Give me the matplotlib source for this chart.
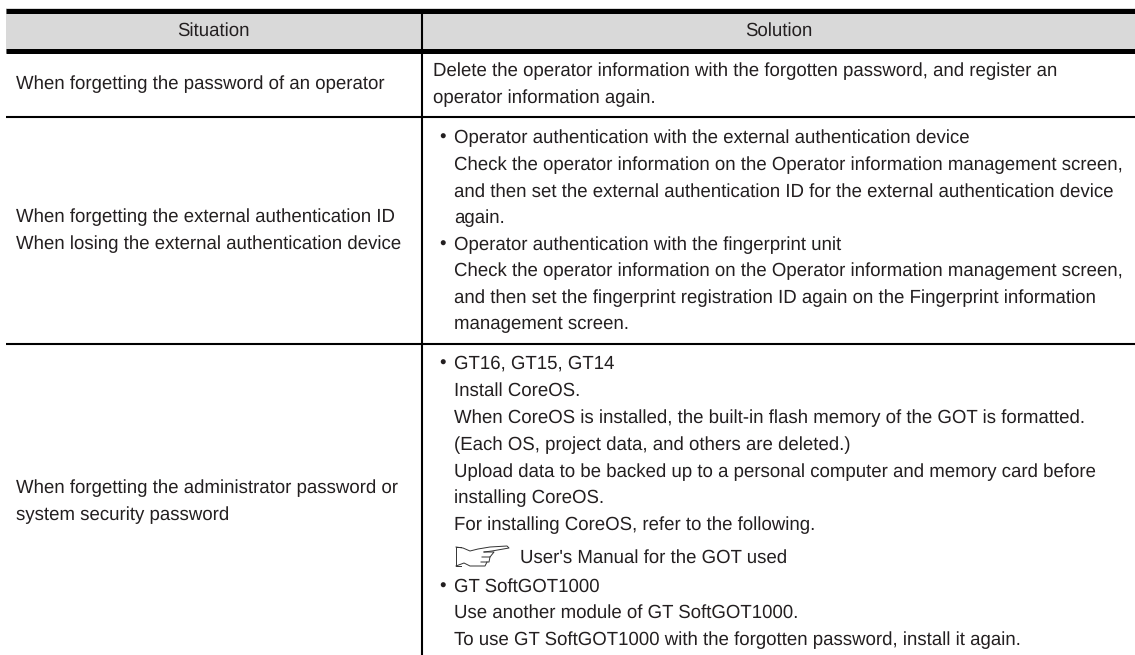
import matplotlib
matplotlib.use("Agg")
import matplotlib.pyplot as plt
from matplotlib.patches import Rectangle

W = 1135
H = 655

headers = ["Situation", "Solution"]
situations = [
    ["When forgetting the password of an operator"],
    ["When forgetting the external authentication ID",
     "When losing the external authentication device"],
    ["When forgetting the administrator password or",
     "system security password"],
]
solution_1 = ["Delete the operator information with the forgotten password, and register an",
              "operator information again."]
solution_2 = ["Operator authentication with the external authentication device",
              "Check the operator information on the Operator information management screen,",
              "and then set the external authentication ID for the external authentication device",
              "again.",
              "Operator authentication with the fingerprint unit",
              "Check the operator information on the Operator information management screen,",
              "and then set the fingerprint registration ID again on the Fingerprint information",
              "management screen."]
solution_3 = ["GT16, GT15, GT14",
              "Install CoreOS.",
              "When CoreOS is installed, the built-in flash memory of the GOT is formatted.",
              "(Each OS, project data, and others are deleted.)",
              "Upload data to be backed up to a personal computer and memory card before",
              "installing CoreOS.",
              "For installing CoreOS, refer to the following.",
              "User's Manual for the GOT used",
              "GT SoftGOT1000",
              "Use another module of GT SoftGOT1000.",
              "To use GT SoftGOT1000 with the forgotten password, install it again."]

plt.rcParams['font.family'] = ['Liberation Sans', 'DejaVu Sans']
plt.rcParams['text.hinting'] = 'none'

fig = plt.figure(figsize=(W / 100, H / 100), dpi=100)
ax = fig.add_axes([0, 0, 1, 1])
ax.set_xlim(0, W)
ax.set_ylim(H, 0)
ax.axis("off")

# header band and rules
ax.add_patch(Rectangle((6, 8), W - 6, 45, fc="#d9d9d9", ec="none"))
for y in [10.5, 50.5]:
    ax.plot([6, W], [y, y], color="black", lw=3.6, solid_capstyle="butt")
for y in [117, 344]:
    ax.plot([6, W], [y, y], color="black", lw=1.5, solid_capstyle="butt")
ax.plot([422, 422], [10, H], color="black", lw=1.5, solid_capstyle="butt")

fs = 13.4
col = "#231f20"


def put(x, y, s, **kw):
    ax.text(x, y, s, va="baseline", fontsize=fs, color=col, **kw)


put(213, 36, headers[0], ha="center")
put(779, 36, headers[1], ha="center")

left_y = [[89.5], [222.5, 249], [493.5, 520.5]]
for lines, ys in zip(situations, left_y):
    for line, y in zip(lines, ys):
        put(16, y, line)

for line, y in zip(solution_1, [76, 103]):
    put(433, y, line)

y2 = [143, 170, 197, 223, 250, 276, 303, 329]
for line, y in zip(solution_2, y2):
    put(454, y, line)
for y in [y2[0], y2[4]]:
    put(439.5, y, "\u2022")

y3 = [369, 396, 423, 450, 477, 503, 530, 563, 592, 618, 645]
for i, (line, y) in enumerate(zip(solution_3, y3)):
    put(520 if i == 7 else 454, y, line)
for y in [y3[0], y3[8]]:
    put(439.5, y, "\u2022")

# pointing hand icon next to the manual reference
hand = [
    [(461, 547), (456, 547), (456, 566), (461, 566)],
    [(456, 547), (463, 548), (470, 551), (478, 549), (490, 547), (507, 546),
     (509, 548), (492, 551), (484, 552)],
    [(484, 552), (494, 552), (490, 557), (482, 557)],
    [(490, 557), (489, 562), (481, 562)],
    [(487, 562), (485, 566), (470, 566), (464, 563), (456, 566)],
]
for seg in hand:
    ax.plot([p[0] for p in seg], [p[1] for p in seg], color="#333333", lw=0.7)

fig.savefig("out.png", dpi=100)
